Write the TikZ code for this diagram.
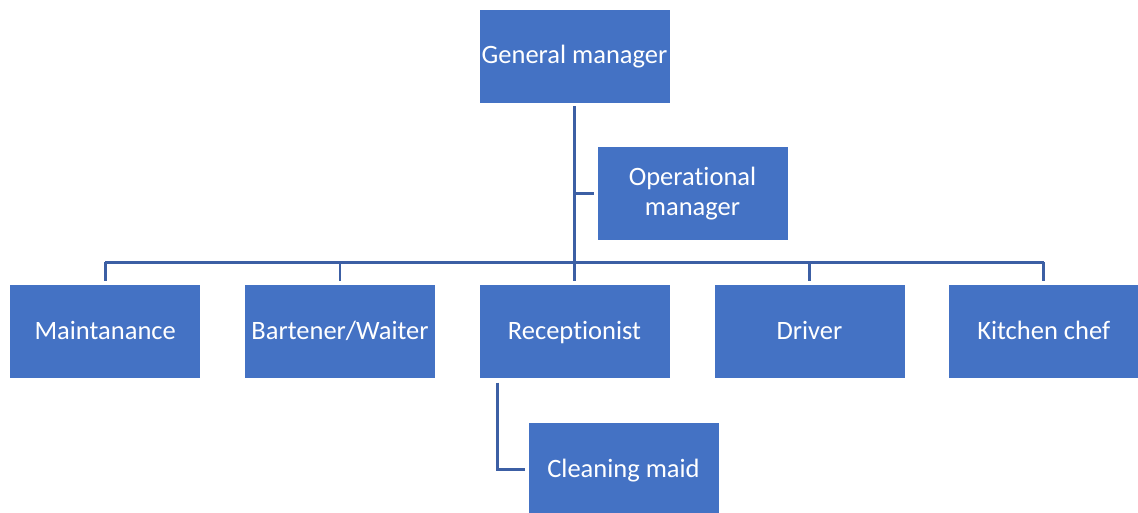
\documentclass[tikz,border=0pt]{standalone}
\usepackage{fontspec}
\setmainfont{Carlito}[Ligatures=NoCommon]
\definecolor{boxblue}{HTML}{4472C4}
\definecolor{lineblue}{HTML}{3C5FA4}
\begin{document}
\begin{tikzpicture}[x=1pt,y=-1pt,
  box/.style={rectangle, fill=boxblue, draw=white, line width=0.6pt,
    minimum width=191pt, minimum height=94pt, inner sep=0pt, text=white,
    font=\fontsize{26.5}{29.5}\selectfont, align=center},
  one/.style={text height=19pt, text depth=3pt},
  conn/.style={draw=lineblue, line width=2.6pt}]
\useasboundingbox (0,0) rectangle (1138,513);
\node[box,one] (gm) at (574.5,56) {General manager};
\node[box] (om) at (692.5,193.7) {Operational\\manager};
\node[box,one] (m) at (105.2,331.2) {Maintanance};
\node[box,one] (b) at (340,331.2) {Bartener/Waiter};
\node[box,one] (r) at (574.5,331.2) {Receptionist};
\node[box,one] (d) at (809.5,331.2) {Driver};
\node[box,one] (k) at (1043.7,331.2) {Kitchen chef};
\node[box,one] (c) at (623.5,469.3) {Cleaning maid};
\coordinate (bus) at (575,262.3);
\draw[conn] ([yshift=-3pt]gm.south) -- (gm.south |- bus);
\draw[conn] (gm.south |- om.west) -- ([xshift=-3pt]om.west);
\draw[conn] (m.north |- bus) -- (k.north |- bus);
\foreach \n in {m,b,r,d,k}
  \draw[conn] (\n.north |- bus) -- ([yshift=3pt]\n.north);
\draw[conn] ([xshift=-77pt,yshift=-4pt]r.south) |- ([xshift=-3pt]c.west);
\end{tikzpicture}
\end{document}
